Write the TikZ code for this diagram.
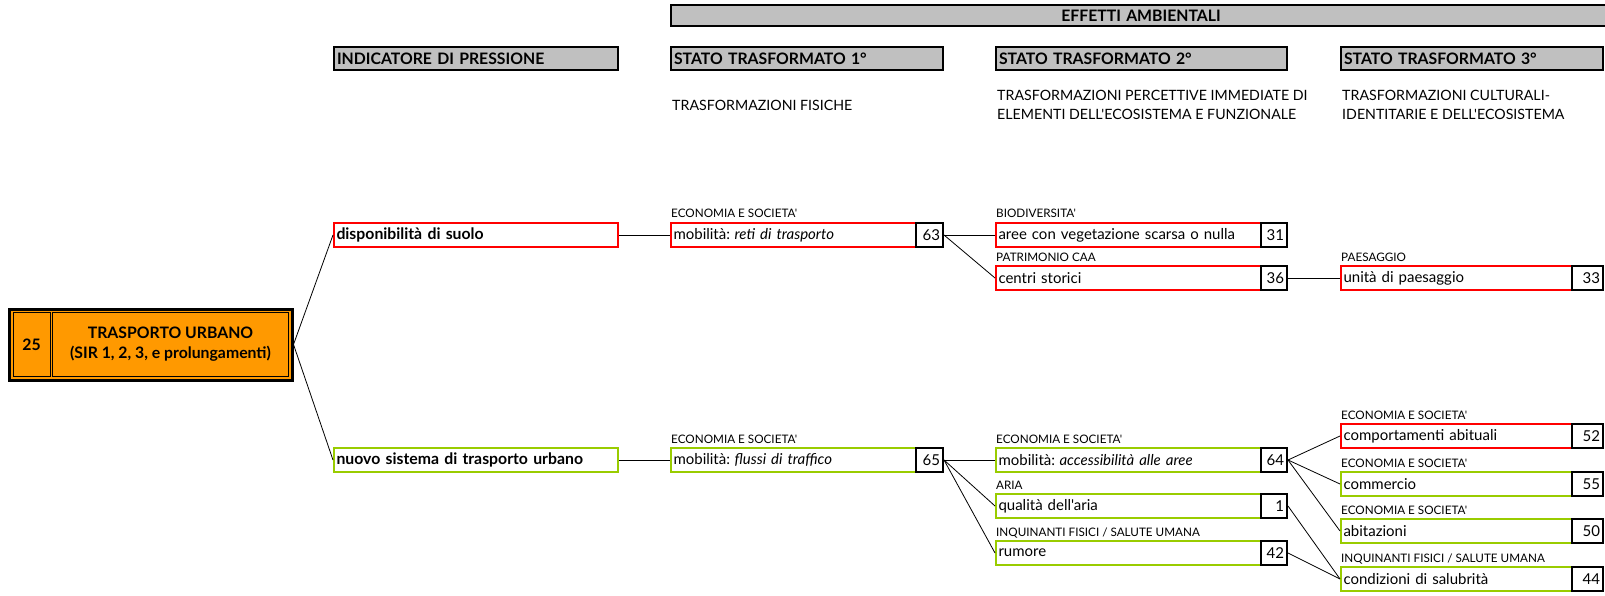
\documentclass[tikz,border=0pt]{standalone}
\usepackage{fontspec}
\setmainfont{Lato}[Ligatures=TeXOff]
\definecolor{cred}{RGB}{255,0,0}
\definecolor{cgreen}{RGB}{153,204,0}
\definecolor{corange}{RGB}{255,153,0}
\definecolor{cgray}{RGB}{192,192,192}
\newcommand{\mobil}[1]{mobilità:\hspace{4.5pt}\textit{#1}}
\tikzset{
  box/.style={draw, line width=2pt, anchor=west, minimum height=24pt, inner xsep=2.5pt, inner ysep=0pt, align=left, font=\fontsize{15}{17}\selectfont},
  redbox/.style={box, draw=cred},
  greenbox/.style={box, draw=cgreen},
  numbox/.style={draw=black, line width=2pt, anchor=west, minimum height=24pt, inner xsep=3pt, inner ysep=0pt, align=right, font=\fontsize{15}{17}\selectfont},
  lbl/.style={anchor=base west, inner sep=0pt, font=\fontsize{11.7}{13}\selectfont},
  hdr/.style={draw, line width=2pt, fill=cgray, anchor=west, minimum height=23pt, inner xsep=3pt, inner ysep=0pt, font=\bfseries\fontsize{15.8}{17}\selectfont, align=left},
  sub/.style={anchor=west, inner sep=0pt, align=left, font=\fontsize{14.2}{19}\selectfont},
  link/.style={line width=0.8pt},
  rootcell/.style={draw, line width=1pt, fill=corange, inner sep=0pt, align=center, font=\bfseries\fontsize{15.8}{20}\selectfont},
  lone/.style={font=\bfseries\fontsize{15.8}{17}\selectfont},
}
\begin{document}
\begin{tikzpicture}[x=1pt,y=-1pt]
\useasboundingbox (0,0) rectangle (1605,596);
% headers
\node[hdr, minimum height=21pt, text width=934pt, align=center] (heff) at (670,15.5) {EFFETTI AMBIENTALI};
\node[hdr, text width=278pt] (hind) at (333,59) {INDICATORE DI PRESSIONE};
\node[hdr, text width=266pt] (hs1) at (670,59) {STATO TRASFORMATO 1°};
\node[hdr, text width=285pt] (hs2) at (995,59) {STATO TRASFORMATO 2°};
\node[hdr, text width=256pt] (hs3) at (1340,59) {STATO TRASFORMATO 3°};
\node[sub] (sub1) at (672,105) {TRASFORMAZIONI FISICHE};
\node[sub] (sub2) at (997,105) {TRASFORMAZIONI PERCETTIVE IMMEDIATE DI\\ELEMENTI DELL'ECOSISTEMA E FUNZIONALE};
\node[sub] (sub3) at (1342,105) {TRASFORMAZIONI CULTURALI-\\IDENTITARIE E DELL'ECOSISTEMA};
% root
\node[draw, line width=3pt, fill=corange, minimum width=283pt, minimum height=71pt, inner sep=0pt] (root) at (150.5,344.5) {};
\node[rootcell, minimum width=37pt, minimum height=64pt] (rootnum) at (31.5,344.5) {25};
\node[rootcell, minimum width=236pt, minimum height=64pt] (rootmain) at (170.5,344.5) {TRASPORTO URBANO\\(SIR 1, 2, 3, e prolungamenti)};
% level 1
\node[redbox, text width=279pt, lone] (a1) at (333,235) {disponibilità di suolo};
\node[greenbox, text width=279pt, lone] (b1) at (333,460) {nuovo sistema di trasporto urbano};
% level 2
\node[lbl] (a2l) at (671,218) {ECONOMIA E SOCIETA'};
\node[redbox, text width=240pt] (a2) at (670,235) {\mobil{reti di trasporto}};
\node[numbox, text width=21pt] (a2n) at (915,235) {63};
\node[lbl] (b2l) at (671,443) {ECONOMIA E SOCIETA'};
\node[greenbox, text width=240pt] (b2) at (670,460) {\mobil{flussi di traffico}};
\node[numbox, text width=21pt] (b2n) at (915,460) {65};
% level 3
\node[lbl] (a3l) at (996,218) {BIODIVERSITA'};
\node[redbox, text width=260pt] (a3) at (995,235) {aree con vegetazione scarsa o nulla};
\node[numbox, text width=20pt] (a3n) at (1260,235) {31};
\node[lbl] (c3l) at (996,261) {PATRIMONIO CAA};
\node[redbox, text width=260pt] (c3) at (995,278) {centri storici};
\node[numbox, text width=20pt] (c3n) at (1260,278) {36};
\node[lbl] (b3l) at (996,443) {ECONOMIA E SOCIETA'};
\node[greenbox, text width=260pt] (b3) at (995,460) {\mobil{accessibilità alle aree}};
\node[numbox, text width=20pt] (b3n) at (1260,460) {64};
\node[lbl] (d3l) at (996,489) {ARIA};
\node[greenbox, text width=260pt] (d3) at (995,506) {qualità dell'aria};
\node[numbox, text width=20pt] (d3n) at (1260,506) {1};
\node[lbl] (e3l) at (996,536) {INQUINANTI FISICI / SALUTE UMANA};
\node[greenbox, text width=260pt] (e3) at (995,553) {rumore};
\node[numbox, text width=20pt] (e3n) at (1260,553) {42};
% level 4
\node[lbl] (c4l) at (1341,261) {PAESAGGIO};
\node[redbox, text width=226pt] (c4) at (1340,278) {unità di paesaggio};
\node[numbox, text width=25pt] (c4n) at (1571,278) {33};
\node[lbl] (f4l) at (1341,419) {ECONOMIA E SOCIETA'};
\node[redbox, text width=226pt] (f4) at (1340,436) {comportamenti abituali};
\node[numbox, text width=25pt] (f4n) at (1571,436) {52};
\node[lbl] (g4l) at (1341,467) {ECONOMIA E SOCIETA'};
\node[greenbox, text width=226pt] (g4) at (1340,484) {commercio};
\node[numbox, text width=25pt] (g4n) at (1571,484) {55};
\node[lbl] (h4l) at (1341,514) {ECONOMIA E SOCIETA'};
\node[greenbox, text width=226pt] (h4) at (1340,531) {abitazioni};
\node[numbox, text width=25pt] (h4n) at (1571,531) {50};
\node[lbl] (i4l) at (1341,562) {INQUINANTI FISICI / SALUTE UMANA};
\node[greenbox, text width=226pt] (i4) at (1340,579) {condizioni di salubrità};
\node[numbox, text width=25pt] (i4n) at (1571,579) {44};
% connectors
\draw[link] (root.east) -- (a1.west);
\draw[link] (root.east) -- (b1.west);
\draw[link] (a1.east) -- (a2.west);
\draw[link] (b1.east) -- (b2.west);
\draw[link] (a2n.east) -- (a3.west);
\draw[link] (a2n.east) -- (c3.west);
\draw[link] (c3n.east) -- (c4.west);
\draw[link] (b2n.east) -- (b3.west);
\draw[link] (b2n.east) -- (d3.west);
\draw[link] (b2n.east) -- (e3.west);
\draw[link] (b3n.east) -- (f4.west);
\draw[link] (b3n.east) -- (g4.west);
\draw[link] (b3n.east) -- (h4.west);
\draw[link] (d3n.east) -- (i4.west);
\draw[link] (e3n.east) -- (i4.west);
\end{tikzpicture}
\end{document}
